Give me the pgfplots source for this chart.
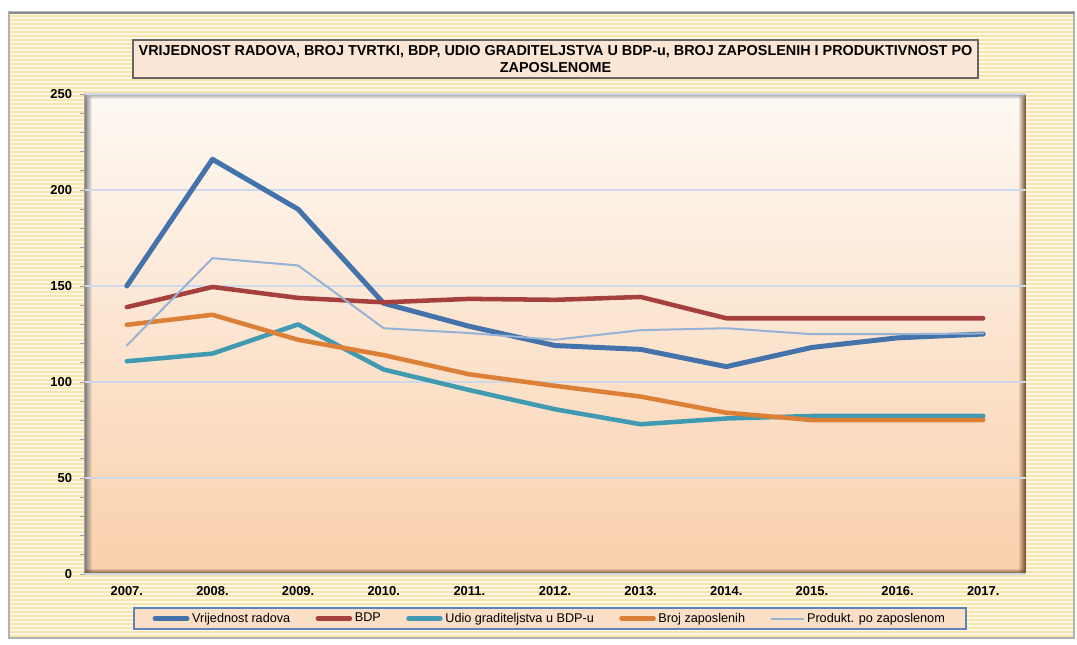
\documentclass[border=0pt]{standalone}
\usepackage{pgfplots}
\pgfplotsset{compat=1.18}
\usepackage{fontspec}
\setmainfont{Liberation Sans}
\usetikzlibrary{fadings}

% colours
\definecolor{radovi}{RGB}{68,114,170}
\definecolor{bdp}{RGB}{166,64,62}
\definecolor{udio}{RGB}{64,155,178}
\definecolor{zaposleni}{RGB}{221,128,55}
\definecolor{produkt}{RGB}{150,178,214}
\definecolor{framebase}{RGB}{254,249,230}
\definecolor{stripe}{RGB}{249,229,172}
\definecolor{titlefill}{RGB}{251,229,213}
\definecolor{plottop}{RGB}{254,249,244}
\definecolor{plotbot}{RGB}{250,208,172}
\definecolor{gridcol}{RGB}{205,217,235}
\definecolor{axisgray}{RGB}{160,160,160}
\definecolor{legendfill}{RGB}{250,222,198}
\definecolor{legendborder}{RGB}{95,130,185}

\tikzfading[name=fade right, left color=transparent!0, right color=transparent!100]
\tikzfading[name=fade left, left color=transparent!100, right color=transparent!0]
\tikzfading[name=fade up, top color=transparent!100, bottom color=transparent!0]
\tikzfading[name=fade down, top color=transparent!0, bottom color=transparent!100]

\begin{document}
\begin{tikzpicture}[x=0.75pt, y=0.75pt]
    % page and striped frame (units: reference pixels, y from bottom)
    \path[fill=white] (0,0) rectangle (1077,644);
    \fill[framebase] (9,6) rectangle (1074,632);
    \foreach \i in {0,...,155}
        \draw[stripe, line width=1.6pt] (9,{8+4*\i}) -- (1074,{8+4*\i});
    \draw[gray!60, line width=1.2pt] (9,6) rectangle (1074,632);
    \draw[gray!90, line width=2.2pt] (9,631) -- (1074,631);

    % title box
    \draw[fill=titlefill, draw=gray!80!black, line width=1.2pt] (133,566) rectangle (978,604);
    \node[align=center, font=\fontsize{10.8}{12.8}\selectfont\bfseries, inner sep=0pt] at (555.5,585)
        {VRIJEDNOST RADOVA, BROJ TVRTKI, BDP, UDIO GRADITELJSTVA U BDP-u, BROJ ZAPOSLENIH I PRODUKTIVNOST PO\\ZAPOSLENOME};

    % plot area background with inset shadow
    \shade[top color=plottop, bottom color=plotbot] (84,70) rectangle (1026,550);
    \fill[black!55, path fading=fade right] (84,70) rectangle (92,550);
    \fill[brown!55!black, path fading=fade left] (1018,70) rectangle (1026,550);
    \fill[brown!55!black, path fading=fade up] (84,70) rectangle (1026,76);
    \fill[black!35, path fading=fade down] (84,545) rectangle (1026,550);

    \begin{axis}[
        at={(63pt,52.5pt)}, anchor=south west,
        width=706.5pt, height=360pt, scale only axis,
        xmin=-0.5, xmax=10.5, ymin=0, ymax=250,
        xtick={0,...,10},
        xticklabels={2007.,2008.,2009.,2010.,2011.,2012.,2013.,2014.,2015.,2016.,2017.},
        ytick={0,50,...,250}, minor y tick num=4,
        axis y line*=left, axis x line*=bottom,
        x axis line style={draw=none},
        y axis line style={draw=axisgray, line width=0.75pt, -},
        xtick style={draw=none},
        ytick style={draw=axisgray, line width=0.6pt},
        tick align=outside,
        major tick length=3pt, minor tick length=3pt,
        ymajorgrids, grid style={gridcol, line width=0.8pt},
        ticklabel style={font=\fontsize{9.7}{11}\selectfont\bfseries},
        /pgf/number format/assume math mode=true,
        xticklabel style={yshift=-2.5pt},
        yticklabel style={xshift=-2.5pt},
        legend columns=5,
        legend cell align=left,
        legend style={
            at={(0.4947,-0.0927)}, anchor=center,
            draw=legendborder, line width=1.4pt, fill=legendfill,
            font=\fontsize{9.5}{11}\selectfont,
            inner xsep=14pt, inner ysep=2pt,
            /tikz/every even column/.append style={column sep=17pt}
        },
        legend image code/.code={\draw[#1, line cap=round] (0pt,0pt) -- (24pt,0pt);},
        every axis plot/.append style={no markers, line join=round, line cap=round}
    ]
        \addplot[radovi, line width=3.75pt] coordinates {
            (0,150) (1,216) (2,190) (3,141) (4,129) (5,119)
            (6,117) (7,108) (8,118) (9,123) (10,125)
        };
        \addlegendentry{Vrijednost radova}

        \addplot[bdp, line width=3.4pt] coordinates {
            (0,139) (1,149.5) (2,143.8) (3,141.5) (4,143.3) (5,142.8)
            (6,144.3) (7,133.2) (8,133.2) (9,133.2) (10,133.2)
        };
        \addlegendentry{BDP}

        \addplot[udio, line width=3.4pt] coordinates {
            (0,110.8) (1,114.8) (2,130) (3,106.5) (4,95.8) (5,85.8)
            (6,78) (7,81) (8,82.3) (9,82.3) (10,82.3)
        };
        \addlegendentry{Udio graditeljstva u BDP-u}

        \addplot[zaposleni, line width=3.4pt] coordinates {
            (0,129.8) (1,135) (2,122) (3,114) (4,104) (5,98)
            (6,92.4) (7,84) (8,80.2) (9,80.2) (10,80.2)
        };
        \addlegendentry{Broj zaposlenih}

        \addplot[produkt, line width=1.5pt] coordinates {
            (0,119) (1,164.5) (2,160.7) (3,128) (4,125.5) (5,122)
            (6,127) (7,128) (8,124.9) (9,124.9) (10,125.3)
        };
        \addlegendentry{Produkt. po zaposlenom}
    \end{axis}
\end{tikzpicture}
\end{document}
